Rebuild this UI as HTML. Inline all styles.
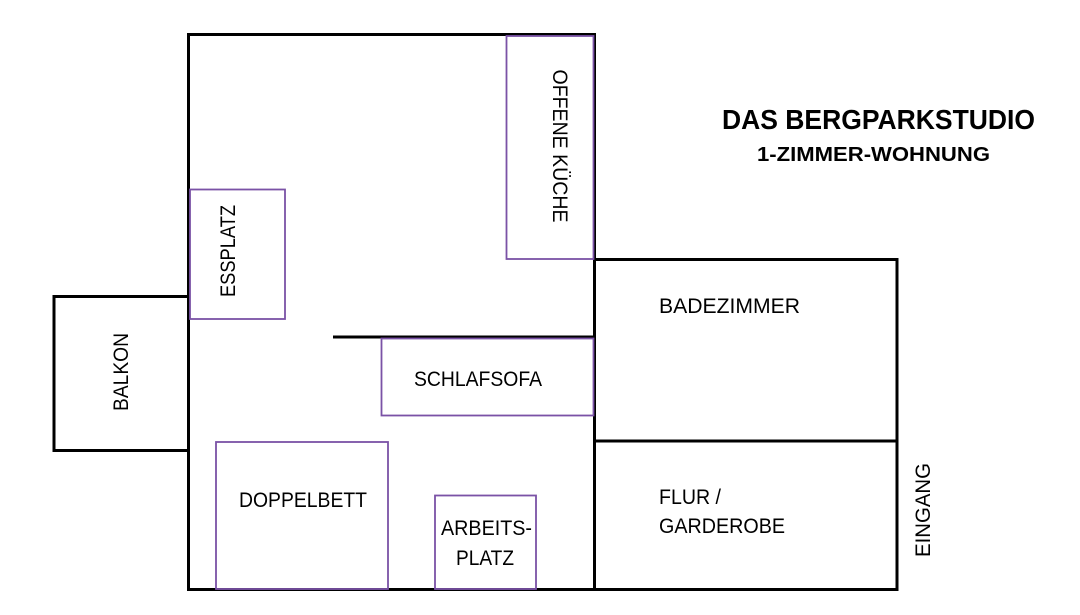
<!DOCTYPE html>
<html><head><meta charset="utf-8"><style>
html,body{margin:0;padding:0;background:#fff;width:1080px;height:615px;overflow:hidden}
svg text{font-family:"Liberation Sans",sans-serif;fill:#000}
</style></head><body>
<svg width="1080" height="615" viewBox="0 0 1080 615" xmlns="http://www.w3.org/2000/svg">
<g fill="none" stroke="#000" stroke-width="3">
<rect x="188.5" y="34.5" width="406" height="555"/>
<rect x="54" y="296.5" width="134.5" height="154"/>
<rect x="594.5" y="259.5" width="302.5" height="181.5"/>
<rect x="594.5" y="441" width="302.5" height="148.5"/>
<line x1="333" y1="337" x2="595" y2="337"/>
</g>
<g fill="none" stroke="#7a52a6" stroke-width="1.8">
<rect x="190" y="189.5" width="95" height="129.5"/>
<rect x="506.5" y="36" width="87" height="223"/>
<rect x="381.5" y="338.5" width="212" height="77"/>
<rect x="216" y="442" width="172" height="147"/>
<rect x="435" y="495.5" width="101" height="93.5"/>
</g>
<text x="722" y="129" font-size="28" font-weight="bold" textLength="313" lengthAdjust="spacingAndGlyphs">DAS BERGPARKSTUDIO</text>
<text x="757" y="161" font-size="20" font-weight="bold" textLength="233" lengthAdjust="spacingAndGlyphs">1-ZIMMER-WOHNUNG</text>
<g font-size="21">
<text x="659" y="313" textLength="141" lengthAdjust="spacingAndGlyphs">BADEZIMMER</text>
<text x="659" y="504" textLength="62" lengthAdjust="spacingAndGlyphs">FLUR /</text>
<text x="659" y="533" textLength="126" lengthAdjust="spacingAndGlyphs">GARDEROBE</text>
<text x="414" y="386" textLength="128" lengthAdjust="spacingAndGlyphs">SCHLAFSOFA</text>
<text x="239" y="507" textLength="128" lengthAdjust="spacingAndGlyphs">DOPPELBETT</text>
<text x="441" y="535" textLength="91" lengthAdjust="spacingAndGlyphs">ARBEITS-</text>
<text x="456" y="565" textLength="58" lengthAdjust="spacingAndGlyphs">PLATZ</text>
<text transform="translate(128,372) rotate(-90)" text-anchor="middle" textLength="78" lengthAdjust="spacingAndGlyphs">BALKON</text>
<text transform="translate(235,251) rotate(-90)" text-anchor="middle" textLength="92" lengthAdjust="spacingAndGlyphs">ESSPLATZ</text>
<text transform="translate(930,510) rotate(-90)" text-anchor="middle" textLength="94" lengthAdjust="spacingAndGlyphs">EINGANG</text>
<text transform="translate(553,146) rotate(90)" text-anchor="middle" textLength="153" lengthAdjust="spacingAndGlyphs">OFFENE KÜCHE</text>
</g>
</svg>
</body></html>
